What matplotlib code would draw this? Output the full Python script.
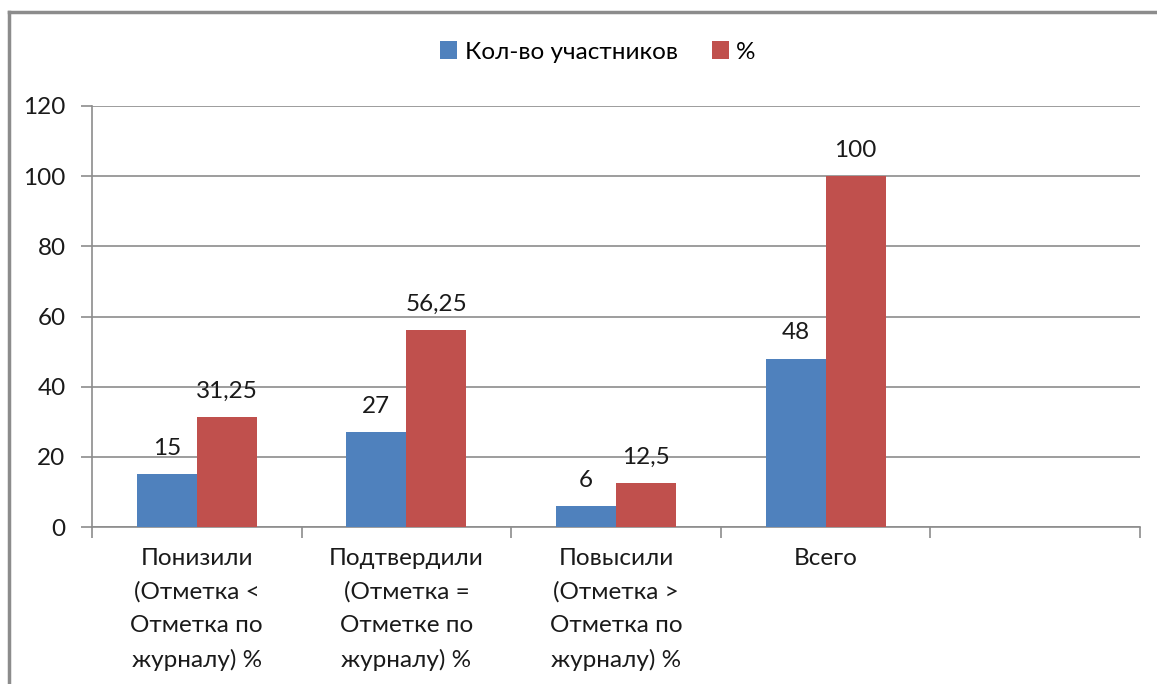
import numpy as np
import matplotlib.pyplot as plt
from matplotlib.lines import Line2D

plt.rcParams['font.family'] = ['Lato', 'DejaVu Sans']

categories = ["Понизили\n(Отметка <\nОтметка по\nжурналу) %",
              "Подтвердили\n(Отметка =\nОтметке по\nжурналу) %",
              "Повысили\n(Отметка >\nОтметка по\nжурналу) %",
              "Всего"]
n_slots = 5  # the chart keeps one empty slot on the right
counts = [15, 27, 6, 48]
percents = [31.25, 56.25, 12.5, 100]
count_labels = ["15", "27", "6", "48"]
percent_labels = ["31,25", "56,25", "12,5", "100"]
series_names = ["Кол-во участников", "%"]

blue = "#4F81BD"
red = "#C0504D"
grid_c = "#8C8C8C"

fig = plt.figure(figsize=(11.57, 6.84), dpi=100)
ax = fig.add_axes([92/1157, 1-527/684, (1140-92)/1157, (527-106)/684])

x = np.arange(len(categories))
w = 0.286
b1 = ax.bar(x - w/2, counts, w, color=blue, label=series_names[0], zorder=3)
b2 = ax.bar(x + w/2, percents, w, color=red, label=series_names[1], zorder=3)

fs = 17.5
for rect, lab in zip(b1, count_labels):
    ax.annotate(lab, (rect.get_x() + rect.get_width()/2, rect.get_height()),
                xytext=(0, 11), textcoords="offset points", ha="center", va="bottom",
                fontsize=fs, color="#1a1a1a")
for rect, lab in zip(b2, percent_labels):
    ax.annotate(lab, (rect.get_x() + rect.get_width()/2, rect.get_height()),
                xytext=(0, 11), textcoords="offset points", ha="center", va="bottom",
                fontsize=fs, color="#1a1a1a")

ax.set_xlim(-0.5, n_slots - 0.5)
ax.set_ylim(0, 120)
ax.set_yticks(np.arange(0, 121, 20))
ax.yaxis.grid(True, color=grid_c, linewidth=1.2, zorder=0)
ax.set_axisbelow(True)

ax.set_xticks(x)
ax.set_xticklabels(categories, fontsize=fs, linespacing=1.72, color="#1a1a1a")
ax.set_xticks(np.arange(-0.5, n_slots, 1), minor=True)
ax.tick_params(axis="x", which="major", length=0, pad=15)
ax.tick_params(axis="x", which="minor", length=8, color=grid_c, width=1.2)
ax.tick_params(axis="y", length=8, color=grid_c, width=1.2, labelsize=fs,
               labelcolor="#1a1a1a", pad=11)

for s in ["top", "right"]:
    ax.spines[s].set_visible(False)
for s in ["left", "bottom"]:
    ax.spines[s].set_color(grid_c)
    ax.spines[s].set_linewidth(1.2)

fig.legend(handles=[b1, b2], labels=series_names, loc="center",
           bbox_to_anchor=(598/1157, 1-52/684), ncol=2, frameon=False,
           fontsize=fs, handlelength=0.7, handleheight=0.7, handletextpad=0.3,
           columnspacing=1.4)

# outer frame, clipped by the image edges on the right and bottom
fig.add_artist(Line2D([9/1157, 1], [1-12/684, 1-12/684], transform=fig.transFigure,
                      color="#8C8C8C", linewidth=2.5))
fig.add_artist(Line2D([9/1157, 9/1157], [0, 1-12/684], transform=fig.transFigure,
                      color="#8C8C8C", linewidth=2.5))

fig.savefig("out.png", dpi=100, facecolor="white")
